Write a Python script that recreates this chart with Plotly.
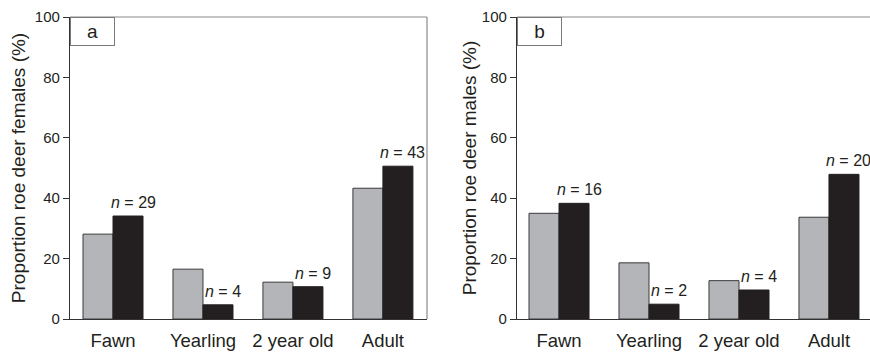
import plotly.graph_objects as go

categories = ["Fawn", "Yearling", "2 year old", "Adult"]
females_gray = [28.1, 16.5, 12.2, 43.3]
females_black = [34.1, 4.7, 10.7, 50.6]
females_n = ["29", "4", "9", "43"]
males_gray = [35.0, 18.6, 12.7, 33.7]
males_black = [38.3, 4.9, 9.6, 47.9]
males_n = ["16", "2", "4", "20"]
y_ticks = [0, 20, 40, 60, 80, 100]

GRAY = "#b4b5b8"
BLACK = "#231f20"
TXT = "#231f20"
FONT = "Liberation Sans, Arial, sans-serif"

fig = go.Figure()
for xa, ya, g, b in [("x", "y", females_gray, females_black), ("x2", "y2", males_gray, males_black)]:
    fig.add_trace(go.Bar(x=categories, y=g, xaxis=xa, yaxis=ya, marker=dict(color=GRAY, line=dict(color="#3a3a3a", width=1)), showlegend=False))
    fig.add_trace(go.Bar(x=categories, y=b, xaxis=xa, yaxis=ya, marker=dict(color=BLACK, line=dict(color=BLACK, width=1)), showlegend=False))

ydom = [33 / 352, 335 / 352]
common_x = dict(type="category", showline=True, linecolor="#333", linewidth=1.2, ticks="outside", ticklen=5,
                tickcolor="rgba(0,0,0,0)", tickfont=dict(size=18.5, color=TXT, family=FONT), showgrid=False, zeroline=False,
                fixedrange=True, automargin=False)
common_y = dict(range=[0, 100], tickvals=y_ticks, showline=True, linecolor="#333", linewidth=1.2, ticks="outside", ticklen=6,
                tickcolor="#333", tickfont=dict(size=15, color=TXT, family=FONT), showgrid=False, zeroline=False,
                domain=ydom, title_font=dict(size=19, color=TXT, family=FONT), automargin=False, fixedrange=True)

fig.update_layout(
    width=870, height=352, margin=dict(l=0, r=0, t=0, b=0),
    paper_bgcolor="white", plot_bgcolor="white",
    barmode="group", bargap=0.333, bargroupgap=0,
    font=dict(family=FONT, color=TXT),
    xaxis=dict(common_x, domain=[70 / 870, 427 / 870], range=[-0.478, 3.49], anchor="y"),
    yaxis=dict(common_y, anchor="x", title=dict(text="Proportion roe deer females (%)", standoff=4)),
    xaxis2=dict(common_x, domain=[517 / 870, 1.0], range=[-0.467, 3.456], anchor="y2"),
    yaxis2=dict(common_y, anchor="x2", title=dict(text="Proportion roe deer males (%)", standoff=0)),
)

# borders: panel a top + right, panel b top only
fig.add_shape(type="line", xref="x domain", yref="y domain", x0=0, x1=1, y0=1, y1=1, line=dict(color="#8a8a8a", width=1.2))
fig.add_shape(type="line", xref="x domain", yref="y domain", x0=1, x1=1, y0=0, y1=1, line=dict(color="#8a8a8a", width=1.2))
fig.add_shape(type="line", xref="x2 domain", yref="y2 domain", x0=0, x1=1, y0=1, y1=1, line=dict(color="#8a8a8a", width=1.2))

# panel letters
for xr, yr, letter in [("x domain", "y domain", "a"), ("x2 domain", "y2 domain", "b")]:
    fig.add_annotation(xref=xr, yref=yr, x=0, y=1, xanchor="left", yanchor="top", text=letter, showarrow=False,
                       width=41, height=25, bordercolor="#7a7a7a", borderwidth=1, bgcolor="white",
                       font=dict(size=19, color=TXT, family=FONT))

# n labels
for xa, ya, vals, ns in [("x", "y", females_black, females_n), ("x2", "y2", males_black, males_n)]:
    for c, v, n in zip(categories, vals, ns):
        fig.add_annotation(xref=xa, yref=ya, x=c, y=v, xshift=20, yshift=3, yanchor="bottom", showarrow=False,
                           text=f"<i>n</i> = {n}", font=dict(size=16, color=TXT, family=FONT))

fig.write_html("out.html", config={"displayModeBar": False},
               post_script="document.body.style.margin='0';document.body.style.overflow='hidden';")
